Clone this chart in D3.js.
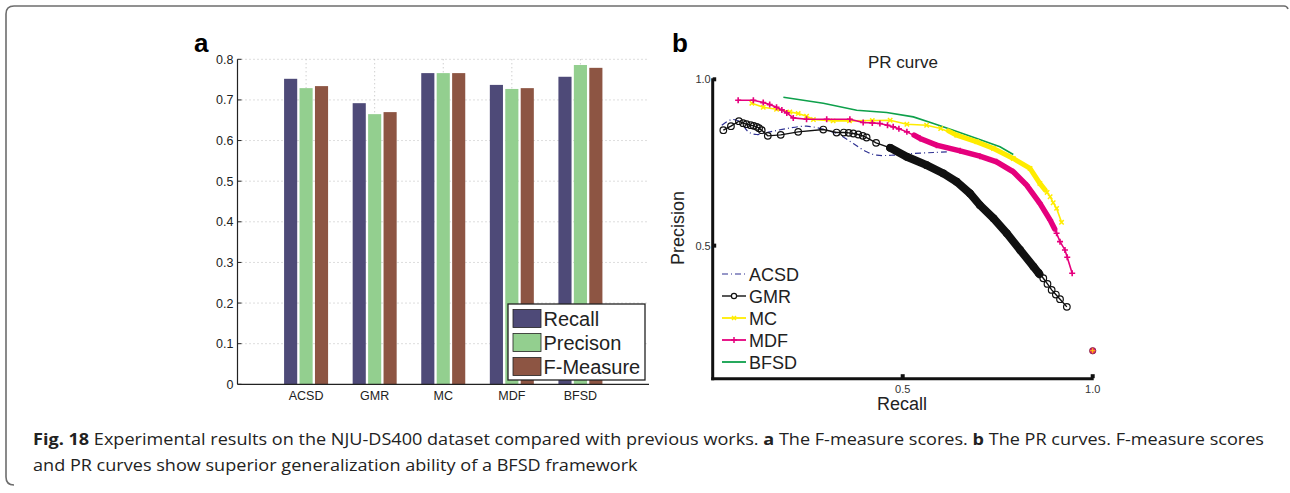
<!DOCTYPE html>
<html>
<head>
<meta charset="utf-8">
<script src="https://cdn.jsdelivr.net/npm/d3@7"></script>
<style>
  body { margin: 0; background: #fff; }
  svg text { font-family: "Liberation Sans", Arial, sans-serif; }
</style>
</head>
<body>
<svg id="fig" width="1290" height="493"></svg>
<script>
// ---- panel a data ----
const methods = ['ACSD', 'GMR', 'MC', 'MDF', 'BFSD'];
const seriesNames = ['Recall', 'Precison', 'F-Measure'];
const recall = [0.752, 0.692, 0.766, 0.737, 0.757];
const precision = [0.729, 0.665, 0.766, 0.727, 0.786];
const fmeasure = [0.734, 0.670, 0.766, 0.729, 0.779];
const barTicks = [0, 0.1, 0.2, 0.3, 0.4, 0.5, 0.6, 0.7, 0.8];
const barColors = ['#4e4a78', '#93cf8f', '#8d5543'];

// ---- panel b data (recall, precision) ----
const acsd = [[0.024,0.862],[0.050,0.879],[0.072,0.872],[0.094,0.842],[0.116,0.834],[0.151,0.842],[0.195,0.852],[0.247,0.859],[0.300,0.847],[0.335,0.832],[0.370,0.807],[0.405,0.782],[0.432,0.772],[0.475,0.772],[0.528,0.777],[0.581,0.780],[0.616,0.782]];
const gmr = [[0.028,0.847],[0.048,0.859],[0.069,0.874],[0.080,0.868],[0.089,0.865],[0.100,0.862],[0.108,0.860],[0.116,0.857],[0.122,0.853],[0.129,0.847],[0.145,0.830],[0.179,0.833],[0.225,0.842],[0.291,0.849],[0.326,0.840],[0.345,0.840],[0.358,0.839],[0.370,0.837],[0.383,0.834],[0.395,0.830],[0.405,0.825],[0.430,0.809],[0.467,0.794],[0.511,0.767],[0.563,0.742],[0.607,0.717],[0.642,0.692],[0.677,0.657],[0.703,0.622],[0.739,0.582],[0.774,0.537],[0.809,0.487],[0.844,0.437],[0.858,0.418],[0.870,0.402],[0.881,0.385],[0.892,0.367],[0.903,0.353],[0.914,0.339],[0.932,0.316]];
const gmrDense = [[0.467,0.794],[0.511,0.767],[0.563,0.742],[0.607,0.717],[0.642,0.692],[0.677,0.657],[0.703,0.622],[0.739,0.582],[0.774,0.537],[0.809,0.487],[0.844,0.437],[0.860,0.414]];
const mc = [[0.103,0.928],[0.133,0.916],[0.168,0.910],[0.203,0.902],[0.225,0.897],[0.247,0.889],[0.265,0.879],[0.317,0.875],[0.360,0.875],[0.420,0.876],[0.467,0.877],[0.511,0.865],[0.563,0.862],[0.600,0.852],[0.642,0.832],[0.695,0.812],[0.739,0.792],[0.791,0.762],[0.835,0.732],[0.861,0.687],[0.880,0.660],[0.888,0.647],[0.896,0.629],[0.905,0.612],[0.918,0.570]];
const mcDense = [[0.620,0.845],[0.642,0.832],[0.695,0.812],[0.739,0.792],[0.791,0.762],[0.835,0.732],[0.861,0.687],[0.875,0.667]];
const mdf = [[0.067,0.937],[0.107,0.937],[0.133,0.930],[0.150,0.924],[0.168,0.916],[0.182,0.908],[0.195,0.899],[0.212,0.884],[0.247,0.880],[0.300,0.880],[0.361,0.880],[0.396,0.870],[0.420,0.869],[0.440,0.867],[0.460,0.862],[0.475,0.857],[0.490,0.851],[0.511,0.842],[0.546,0.822],[0.589,0.802],[0.651,0.785],[0.703,0.769],[0.747,0.752],[0.791,0.722],[0.826,0.682],[0.861,0.627],[0.888,0.577],[0.905,0.537],[0.914,0.512],[0.927,0.487],[0.933,0.465],[0.946,0.417]];
const mdfDense = [[0.530,0.832],[0.546,0.822],[0.589,0.802],[0.651,0.785],[0.703,0.769],[0.747,0.752],[0.791,0.722],[0.826,0.682],[0.861,0.627],[0.888,0.577],[0.900,0.550]];
const bfsd = [[0.186,0.946],[0.291,0.928],[0.379,0.907],[0.458,0.900],[0.528,0.887],[0.581,0.867],[0.633,0.847],[0.695,0.822],[0.756,0.797],[0.791,0.774]];
const endPoint = [1.0, 0.184];
const prTicks = [0.5, 1.0];
const prLegend = ['ACSD', 'GMR', 'MC', 'MDF', 'BFSD'];
const prColors = { ACSD: '#2e3192', GMR: '#111111', MC: '#ffec00', MDF: '#e5007d', BFSD: '#0ea04b' };

const svg = d3.select('#fig');

// frame bracket
svg.append('path')
    .attr('d', 'M14,485 Q6,485 6,477 L6,14 Q6,6 14,6 L1284,6 Q1287,6 1288,9')
    .attr('fill', 'none')
    .attr('stroke', '#6d6d6d')
    .attr('stroke-width', 1.6);

// ================= panel a =================
const xA = d3.scaleLinear().domain([0, 6]).range([237.5, 649]);
const yA = d3.scaleLinear().domain([0, 0.8]).range([384.3, 59.3]);
const inner = d3.scaleBand().domain(seriesNames).range([-22, 22]).paddingInner(0.15);

const gA = svg.append('g');

// grid
gA.selectAll('.hgrid').data(barTicks.slice(1)).enter().append('line')
    .attr('x1', xA(0)).attr('x2', xA(6))
    .attr('y1', d => yA(d)).attr('y2', d => yA(d))
    .attr('stroke', '#bbb').attr('stroke-width', 1).attr('stroke-dasharray', '1,3');
gA.selectAll('.vgrid').data(methods).enter().append('line')
    .attr('x1', (d, i) => xA(i + 1)).attr('x2', (d, i) => xA(i + 1))
    .attr('y1', yA(0)).attr('y2', yA(0.8))
    .attr('stroke', '#bbb').attr('stroke-width', 1).attr('stroke-dasharray', '1,3');

const barData = [];
methods.forEach((m, i) => {
    [recall, precision, fmeasure].forEach((arr, k) => {
        barData.push({ m, i, s: seriesNames[k], k, v: arr[i] });
    });
});

gA.selectAll('.bar').data(barData).enter().append('rect')
    .attr('x', d => xA(d.i + 1) + inner(d.s))
    .attr('width', inner.bandwidth())
    .attr('y', d => yA(d.v))
    .attr('height', d => yA(0) - yA(d.v))
    .attr('fill', d => barColors[d.k]);

// axes
gA.append('line').attr('x1', xA(0)).attr('x2', xA(0)).attr('y1', yA(0)).attr('y2', yA(0.8))
    .attr('stroke', '#222').attr('stroke-width', 1.2);
gA.append('line').attr('x1', xA(0)).attr('x2', xA(6)).attr('y1', yA(0)).attr('y2', yA(0))
    .attr('stroke', '#222').attr('stroke-width', 1.2);
gA.selectAll('.ytick').data(barTicks).enter().append('line')
    .attr('x1', xA(0)).attr('x2', xA(0) + 4)
    .attr('y1', d => yA(d)).attr('y2', d => yA(d))
    .attr('stroke', '#222');
gA.selectAll('.ylab').data(barTicks).enter().append('text')
    .attr('x', xA(0) - 4).attr('y', d => yA(d) + 4.5)
    .attr('text-anchor', 'end').attr('font-size', 12.5).attr('fill', '#222')
    .text(d => d === 0 ? '0' : d.toFixed(1));
gA.selectAll('.xlab').data(methods).enter().append('text')
    .attr('x', (d, i) => xA(i + 1)).attr('y', 399.5)
    .attr('text-anchor', 'middle').attr('font-size', 12.5).attr('fill', '#222')
    .text(d => d);

// legend
const legA = gA.append('g');
legA.append('rect').attr('x', 508).attr('y', 304).attr('width', 137).attr('height', 76)
    .attr('fill', '#fff').attr('stroke', '#222').attr('stroke-width', 1.3);
seriesNames.forEach((s, k) => {
    legA.append('rect').attr('x', 513).attr('y', 309.5 + k * 24).attr('width', 28).attr('height', 18)
        .attr('fill', barColors[k]).attr('stroke', '#222').attr('stroke-width', 0.8);
    legA.append('text').attr('x', 543.5).attr('y', 325.5 + k * 24)
        .attr('font-size', 20).attr('fill', '#222').text(s);
});

svg.append('text').attr('x', 194).attr('y', 52).attr('font-size', 26).attr('font-weight', 'bold').text('a');

// ================= panel b =================
const xB = d3.scaleLinear().domain([0, 1]).range([712.7, 1092.7]);
const yB = d3.scaleLinear().domain([0.1, 1.0]).range([378.7, 79.3]);
const line = d3.line().x(d => xB(d[0])).y(d => yB(d[1]));
const gB = svg.append('g');

// ACSD dash-dot
gB.append('path').datum(acsd).attr('d', line.curve(d3.curveCatmullRom))
    .attr('fill', 'none').attr('stroke', prColors.ACSD).attr('stroke-width', 1.2)
    .attr('stroke-dasharray', '6,3,1,3');
line.curve(d3.curveLinear);

// BFSD
gB.append('path').datum(bfsd).attr('d', line)
    .attr('fill', 'none').attr('stroke', prColors.BFSD).attr('stroke-width', 1.6);

// MC
gB.append('path').datum(mcDense).attr('d', line)
    .attr('fill', 'none').attr('stroke', prColors.MC).attr('stroke-width', 5).attr('stroke-linecap', 'round');
gB.append('path').datum(mc).attr('d', line)
    .attr('fill', 'none').attr('stroke', prColors.MC).attr('stroke-width', 1.6);
const xMark = (sel, s) => sel.append('path')
    .attr('d', `M${-s},${-s}L${s},${s}M${-s},${s}L${s},${-s}`);
gB.selectAll('.mcm').data(mc).enter().append('g')
    .attr('transform', d => `translate(${xB(d[0])},${yB(d[1])})`)
    .call(xMark, 2.2)
    .selectAll('path').attr('stroke', prColors.MC).attr('stroke-width', 1.5);

// MDF
gB.append('path').datum(mdfDense).attr('d', line)
    .attr('fill', 'none').attr('stroke', prColors.MDF).attr('stroke-width', 5.5).attr('stroke-linecap', 'round');
gB.append('path').datum(mdf).attr('d', line)
    .attr('fill', 'none').attr('stroke', prColors.MDF).attr('stroke-width', 1.6);
gB.selectAll('.mdfm').data(mdf).enter().append('path')
    .attr('transform', d => `translate(${xB(d[0])},${yB(d[1])})`)
    .attr('d', 'M-3,0L3,0M0,-3L0,3')
    .attr('stroke', prColors.MDF).attr('stroke-width', 1.6);

// GMR
gB.append('path').datum(gmrDense).attr('d', line)
    .attr('fill', 'none').attr('stroke', prColors.GMR).attr('stroke-width', 8).attr('stroke-linecap', 'round');
gB.append('path').datum(gmr).attr('d', line)
    .attr('fill', 'none').attr('stroke', prColors.GMR).attr('stroke-width', 1.4);
gB.selectAll('.gmrm').data(gmr).enter().append('circle')
    .attr('cx', d => xB(d[0])).attr('cy', d => yB(d[1])).attr('r', 3.3)
    .attr('fill', 'none').attr('stroke', prColors.GMR).attr('stroke-width', 1.2);

// shared end point at recall 1
gB.append('circle').attr('cx', xB(endPoint[0])).attr('cy', yB(endPoint[1])).attr('r', 3.2)
    .attr('fill', '#e5206a').attr('stroke', '#7a2040').attr('stroke-width', 0.8);
gB.append('path').attr('transform', `translate(${xB(endPoint[0])},${yB(endPoint[1])})`)
    .attr('d', 'M-2.5,0L2.5,0M0,-2.5L0,2.5').attr('stroke', '#ffcf00').attr('stroke-width', 1);

// axes
gB.append('line').attr('x1', xB(0)).attr('x2', xB(0)).attr('y1', yB(1.0) - 1).attr('y2', yB(0.1) + 1.5)
    .attr('stroke', '#111').attr('stroke-width', 3);
gB.append('line').attr('x1', xB(0) - 1.5).attr('x2', xB(1.0) + 1).attr('y1', yB(0.1)).attr('y2', yB(0.1))
    .attr('stroke', '#111').attr('stroke-width', 3);
gB.selectAll('.yt').data(prTicks).enter().append('rect')
    .attr('x', xB(0)).attr('y', d => yB(d) - 2).attr('width', 3.5).attr('height', 4).attr('fill', '#111');
gB.selectAll('.xt').data(prTicks).enter().append('rect')
    .attr('x', d => xB(d) - 2).attr('y', yB(0.1) - 4.5).attr('width', 4).attr('height', 4).attr('fill', '#111');
gB.selectAll('.ytl').data(prTicks).enter().append('text')
    .attr('x', xB(0) - 2).attr('y', d => yB(d) + 4)
    .attr('text-anchor', 'end').attr('font-size', 11).attr('fill', '#333')
    .text(d => d.toFixed(1));
gB.selectAll('.xtl').data(prTicks).enter().append('text')
    .attr('x', d => xB(d)).attr('y', 393)
    .attr('text-anchor', 'middle').attr('font-size', 11).attr('fill', '#333')
    .text(d => d.toFixed(1));

gB.append('text').attr('x', 903).attr('y', 68).attr('text-anchor', 'middle')
    .attr('font-size', 17).attr('fill', '#222').text('PR curve');
gB.append('text').attr('transform', 'translate(684,228) rotate(-90)').attr('text-anchor', 'middle')
    .attr('font-size', 18).attr('fill', '#222').text('Precision');
gB.append('text').attr('x', 902).attr('y', 410).attr('text-anchor', 'middle')
    .attr('font-size', 18).attr('fill', '#222').text('Recall');

// legend b
prLegend.forEach((name, k) => {
    const y = 274 + k * 22;
    const lg = gB.append('g');
    if (name === 'ACSD') {
        lg.append('line').attr('x1', 722).attr('x2', 746).attr('y1', y).attr('y2', y)
            .attr('stroke', prColors.ACSD).attr('stroke-width', 1.2).attr('stroke-dasharray', '6,3,1,3');
    } else {
        lg.append('line').attr('x1', 722).attr('x2', 746).attr('y1', y).attr('y2', y)
            .attr('stroke', prColors[name]).attr('stroke-width', name === 'GMR' ? 1.4 : 1.8);
    }
    if (name === 'GMR') {
        lg.append('circle').attr('cx', 734).attr('cy', y).attr('r', 2.6)
            .attr('fill', '#fff').attr('stroke', '#111').attr('stroke-width', 1.2);
    } else if (name === 'MC') {
        lg.append('path').attr('transform', `translate(734,${y})`)
            .attr('d', 'M-2,-2L2,2M-2,2L2,-2').attr('stroke', prColors.MC).attr('stroke-width', 1.5);
    } else if (name === 'MDF') {
        lg.append('path').attr('transform', `translate(734,${y})`)
            .attr('d', 'M-3,0L3,0M0,-3L0,3').attr('stroke', prColors.MDF).attr('stroke-width', 1.5);
    }
    lg.append('text').attr('x', 749).attr('y', y + 6.5)
        .attr('font-size', 18).attr('fill', '#222').text(name);
});

svg.append('text').attr('x', 672).attr('y', 52).attr('font-size', 26).attr('font-weight', 'bold').text('b');

// ================= caption =================
const cap = svg.append('g').attr('font-size', 15.5).attr('fill', '#222');
const l1 = cap.append('text').attr('x', 33).attr('y', 445)
    .style('font-family', '"Open Sans", sans-serif');
l1.append('tspan').attr('font-weight', 'bold').text('Fig. 18');
l1.append('tspan').text(' Experimental results on the NJU-DS400 dataset compared with previous works. ');
l1.append('tspan').attr('font-weight', 'bold').text('a');
l1.append('tspan').text(' The F-measure scores. ');
l1.append('tspan').attr('font-weight', 'bold').text('b');
l1.append('tspan').text(' The PR curves. F-measure scores');
const l2 = cap.append('text').attr('x', 33).attr('y', 471)
    .style('font-family', '"Open Sans", sans-serif')
    .text('and PR curves show superior generalization ability of a BFSD framework');
// squeeze the caption to the width of the printed line
const w1 = l1.node().getComputedTextLength();
const target1 = 1264 - 33;
l1.attr('textLength', target1).attr('lengthAdjust', 'spacingAndGlyphs');
const w2 = l2.node().getComputedTextLength();
l2.attr('textLength', w2 * target1 / w1).attr('lengthAdjust', 'spacingAndGlyphs');
</script>
</body>
</html>
